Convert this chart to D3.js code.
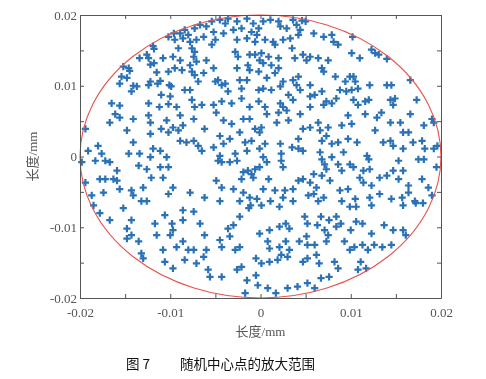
<!DOCTYPE html>
<html>
<head>
<meta charset="utf-8">
<script src="https://cdn.jsdelivr.net/npm/d3@7"></script>
<style>
  body { margin: 0; background: #fff; }
  svg { display: block; }
</style>
</head>
<body>
<div id="chart"></div>
<script>
// random centre points, in micrometres (1e-3 mm)
var ptsUm = [
  // upper left
  [-10.2,16.9],[-11.9,15.6],[-11.8,15.2],[-12.6,14.4],[-13.4,13.9],[-12.4,13.9],[-12.2,13.0],[-11.8,13.2],[-10.8,13.9],[-15.2,12.7],[-14.6,12.5],[-14.5,12.1],[-11.5,11.9],[-10.2,12.0],[-11.1,10.7],[-11.4,10.3],[-12.2,10.6],[-12.4,10.1],[-15.4,11.3],[-14.8,11.1],[-15.6,10.3],[-14.1,10.0],[-13.7,9.9],[-14.3,9.2],[-10.1,10.1],[-11.0,8.7],[-10.0,8.5],[-16.5,7.5],[-15.6,7.2],[-12.4,7.5],[-11.2,7.0],[-10.2,7.4],
  [-9.6,17.4],[-8.9,17.4],[-8.4,17.9],[-8.0,17.2],[-7.3,18.1],[-6.7,18.6],[-6.0,18.4],[-5.4,19.1],[-5.2,17.6],[-4.5,19.3],[-3.9,18.8],[-3.6,19.5],[-2.6,19.1],[-1.5,19.5],[-0.8,18.8],[-0.2,18.1],
  [-9.5,16.5],[-8.6,16.7],[-7.8,16.2],[-7.1,16.5],[-6.3,16.9],[-5.0,16.5],[-4.1,17.4],[-3.0,17.9],[-2.1,18.1],[-1.0,17.6],[-0.4,17.2],
  [-9.1,15.3],[-7.6,15.3],[-7.3,14.8],[-5.4,15.8],[-2.6,16.5],[-1.5,16.7],[-0.6,16.2],
  [-9.7,14.1],[-8.9,13.6],[-7.4,14.1],[-7.1,13.4],[-6.0,13.6],[-2.8,14.8],[-2.5,14.1],[-1.2,14.4],[-0.6,14.4],[-0.1,13.6],
  [-9.5,12.5],[-8.7,12.2],[-7.8,12.9],[-7.6,12.0],[-7.3,11.5],[-6.3,11.8],[-5.2,12.5],[-2.6,12.5],[-1.4,12.9],[-1.2,12.2],[-0.2,12.0],
  [-9.9,9.9],[-8.4,9.4],[-7.8,9.4],[-6.9,10.6],[-5.0,10.6],[-4.7,10.8],[-4.3,10.1],[-3.9,10.3],[-3.6,9.2],[-2.3,10.8],[-2.1,9.6],[-1.5,10.8],[-0.2,9.4],
  [-9.3,7.0],[-7.6,8.0],[-7.3,7.0],[-6.5,7.3],[-5.2,7.3],[-4.3,7.8],[-3.2,7.5],[-2.1,8.2],[-1.2,7.0],[-0.2,7.8],
  // upper right
  [0.3,19.1],[1.1,19.3],[2.0,19.1],[2.2,18.4],[2.9,18.1],[3.6,19.3],[4.0,18.6],[4.4,17.9],[4.6,19.2],[5.0,19.1],[4.2,17.2],
  [0.5,16.5],[1.4,16.2],[1.6,15.8],[2.5,16.5],[3.3,16.7],[3.5,15.3],[5.9,17.4],[7.0,16.9],[7.9,17.2],[8.1,16.2],[8.6,15.8],
  [0.1,14.6],[0.9,14.1],[2.0,13.9],[0.3,13.2],[1.2,12.9],[2.0,12.5],[3.8,13.9],[4.7,14.4],[5.1,13.6],[5.5,14.1],[6.4,13.9],[7.5,13.6],
  [0.7,11.1],[1.6,11.8],[2.5,10.6],[3.6,10.8],[4.2,11.3],[4.0,10.1],[4.4,9.4],[5.5,10.1],[6.8,12.5],[7.0,12.0],[8.3,11.3],[9.4,10.6],[9.9,11.3],
  [0.3,9.6],[1.2,9.4],[2.2,9.9],[3.1,8.7],[3.6,8.0],[5.5,8.5],[6.0,8.7],[6.8,9.2],[7.3,7.8],[8.4,8.2],[8.8,9.4],[9.5,9.2],
  [0.5,7.0],[2.2,7.5],[2.5,7.0],[5.5,7.0],[7.0,7.3],[7.9,7.5],
  [10.2,16.9],[10.1,14.6],[11.0,13.9],[12.3,15.1],[12.7,14.6],[13.1,14.4],[14.0,13.8],[16.6,10.8],[10.3,11.3],[10.5,10.6],[10.1,9.4],[10.8,9.6],[12.1,10.1],[14.0,10.1],[14.5,10.1],[10.3,8.0],[11.6,7.8],[12.0,8.0],[14.4,8.0],[14.9,8.2],[14.7,7.3],[17.3,8.0],[10.8,7.3],
  // middle band
  [-19.4,3.9],[-16.1,6.0],[-15.6,5.5],[-14.1,5.3],[-12.4,5.8],[-12.2,4.8],[-10.4,5.1],[-16.7,4.8],[-14.8,3.7],[-12.2,3.2],[-11.0,3.9],[-10.2,3.4],[-14.1,2.0],[-19.1,0.8],[-18.0,1.5],[-17.6,0.4],[-18.3,-0.6],[-17.2,-0.6],[-16.7,-0.8],[-14.6,0.4],[-13.4,0.4],[-11.9,1.1],[-11.1,0.8],[-12.2,-0.1],[-10.4,-0.1],[-19.8,-0.8],[-13.5,-1.3],[-12.6,-1.8],[-11.1,-1.5],[-10.2,-1.5],[-15.9,-2.0],[-17.8,-3.2],[-17.2,-3.2],[-16.3,-3.2],[-15.9,-3.4],[-12.1,-3.0],[-10.8,-3.0],[-19.4,-3.7],[-15.6,-4.6],[-14.3,-4.8],[-13.0,-4.4],[-17.4,-5.1],[-18.7,-5.5],[-12.6,-6.3],[-13.2,-6.3],[-14.1,-5.5],[-10.2,-5.3],
  [-8.9,5.8],[-7.4,5.3],[-9.7,4.1],[-9.1,3.7],[-8.6,4.4],[-6.2,3.9],[-4.9,6.2],[-4.1,5.1],[-3.2,4.6],[-2.3,3.4],[-1.9,5.3],[-1.2,5.3],[-0.6,3.9],[-0.1,3.4],
  [-8.9,2.2],[-8.2,2.0],[-7.4,2.2],[-6.9,1.5],[-6.5,0.8],[-5.2,1.3],[-4.5,2.9],[-4.1,1.8],[-3.4,2.5],[-1.7,2.0],[-1.0,2.2],[-0.1,1.1],
  [-4.5,0.1],[-4.7,-0.6],[-4.3,-0.8],[-3.4,-0.8],[-2.8,0.4],[-2.6,-0.6],[-1.5,0.8],[-1.9,-2.2],[-1.4,-2.0],[-1.0,-2.5],[-0.6,-1.8],[-0.1,-1.5],
  [-4.9,-3.4],[-4.3,-4.4],[-2.1,-3.2],[-0.8,-3.0],[-9.7,-4.4],[-7.8,-5.1],[-6.2,-5.8],[-3.0,-4.6],[-1.9,-5.1],[-1.2,-5.8],[-0.4,-6.0],[-4.5,-6.3],[-2.3,-6.3],
  [0.7,6.0],[2.0,6.2],[2.9,6.5],[4.4,6.0],[1.8,4.8],[3.1,5.1],[0.1,4.1],[4.7,3.9],[5.5,4.1],[6.4,4.8],[6.6,3.7],[7.5,4.1],[9.0,4.4],[9.7,5.8],
  [0.5,1.8],[2.2,1.8],[3.5,1.3],[4.2,2.5],[4.2,1.1],[4.7,0.8],[6.8,2.2],[7.3,2.9],[7.9,1.8],[8.6,2.0],[9.2,0.6],[9.7,2.5],
  [0.3,-0.1],[0.7,-0.8],[2.3,0.4],[2.3,-0.6],[2.5,-1.5],[6.6,0.6],[6.8,-0.4],[7.1,-1.1],[7.3,-1.8],[7.9,-0.1],[8.6,-1.1],[9.0,-2.0],[9.9,-1.1],[5.9,-2.5],
  [0.9,-3.2],[0.3,-4.6],[1.6,-4.8],[2.7,-4.8],[3.6,-4.6],[4.2,-3.4],[4.7,-3.2],[5.5,-3.7],[6.2,-4.4],[6.8,-2.7],[7.7,-3.4],[5.3,-5.5],[5.9,-5.3],[7.0,-5.8],[8.8,-4.8],[9.7,-4.6],
  [1.1,-6.3],[2.5,-5.8],[3.6,-6.3],[6.4,-6.3],[9.0,-6.3],
  [11.6,6.0],[12.9,5.5],[13.4,6.2],[14.4,4.8],[15.5,4.8],[16.6,6.0],[15.8,3.4],[16.4,3.4],[18.1,4.4],[19.0,5.3],[19.2,4.8],[10.1,4.6],[12.7,3.7],
  [10.7,2.0],[13.6,2.0],[14.4,2.2],[14.7,1.5],[15.8,1.1],[16.9,2.0],[17.9,2.2],[18.2,1.1],[19.2,1.1],[19.6,1.5],
  [11.8,0.1],[12.0,-0.4],[15.3,-0.6],[17.5,-0.4],[18.1,-0.4],[10.3,-1.5],[11.4,-2.0],[12.1,-1.8],[11.0,-3.0],[11.4,-3.7],[12.3,-4.1],[13.2,-3.0],[14.0,-2.7],[14.7,-2.0],[15.8,-2.0],[15.3,-3.2],[16.4,-4.1],[17.9,-3.2],[19.5,-1.5],
  [10.5,-6.0],[12.1,-5.8],[13.2,-5.3],[14.5,-6.0],[15.7,-5.8],[16.4,-5.1],[17.1,-6.3],[19.0,-5.5],[18.6,-4.4],
  // lower left
  [-18.5,-6.9],[-17.8,-8.0],[-16.7,-9.0],[-15.2,-7.3],[-14.3,-9.0],[-14.8,-10.2],[-14.3,-11.1],[-14.8,-11.6],[-13.5,-12.0],[-13.2,-13.7],[-13.0,-14.4],[-11.5,-11.1],[-11.7,-9.5],[-10.6,-8.3],[-9.8,-9.5],[-10.0,-11.1],[-9.7,-10.4],[-8.6,-9.0],[-8.6,-7.6],[-7.4,-7.8],[-6.7,-9.5],[-6.2,-11.1],[-9.3,-12.8],[-8.6,-12.0],[-8.0,-13.2],[-8.4,-14.6],[-7.4,-13.2],[-7.1,-15.1],[-6.3,-14.2],[-6.0,-13.2],[-5.8,-16.0],[-5.6,-17.0],[-4.3,-17.0],[-10.8,-13.2],[-10.6,-14.9],[-9.7,-15.8],[-3.4,-11.3],[-4.5,-11.8],[-4.3,-12.8],[-2.8,-13.2],[-2.3,-12.8],[-2.6,-16.0],[-2.1,-15.6],[-1.5,-17.5],[-1.7,-19.3],[-3.6,-10.2],[-3.0,-9.7],[-2.3,-8.5],[-1.3,-7.3],
  // lower right
  [-1.1,-6.9],[0.1,-6.9],[2.1,-7.1],[6.7,-8.5],[7.6,-9.0],[8.4,-8.5],[9.9,-7.1],[10.6,-7.1],[12.3,-6.9],[15.8,-6.9],[17.2,-6.6],[18.0,-6.6],
  [-0.1,-10.9],[1.0,-10.4],[2.1,-9.9],[2.8,-9.5],[3.2,-10.2],[4.9,-8.5],[5.2,-9.5],[6.3,-9.7],[7.1,-10.4],[7.5,-11.1],[8.4,-9.9],[8.9,-9.5],[10.0,-10.4],[10.6,-9.2],[11.3,-9.5],[12.3,-10.9],[13.7,-9.7],[14.7,-10.4],[15.8,-10.4],[16.1,-11.1],
  [0.8,-12.0],[1.0,-13.0],[2.1,-12.8],[2.8,-12.0],[3.2,-13.2],[2.3,-13.9],[4.3,-12.0],[5.1,-11.3],[5.2,-12.5],[6.0,-12.5],[7.3,-12.0],[9.3,-12.0],[9.9,-13.2],[10.4,-12.8],[11.3,-12.5],[11.9,-13.2],[12.6,-12.5],[13.5,-12.8],[14.5,-12.5],
  [-0.5,-14.4],[0.1,-15.1],[1.0,-14.9],[1.9,-14.6],[3.0,-14.2],[4.7,-14.9],[5.2,-14.4],[6.2,-13.9],[6.5,-15.1],[8.2,-14.9],[8.6,-15.8],[7.6,-17.0],[6.7,-17.2],[5.2,-17.9],[6.0,-18.6],[4.1,-18.4],[3.0,-18.6],[0.8,-18.6],[1.7,-19.3],[-0.5,-16.8],[-0.3,-18.2],[11.1,-14.9],[11.7,-15.8],[10.8,-16.0]
];

var tickVals = [-0.02, -0.015, -0.01, -0.005, 0, 0.005, 0.01, 0.015, 0.02];
var tickLabels = {"-0.02": "-0.02", "-0.01": "-0.01", "0": "0", "0.01": "0.01", "0.02": "0.02"};
var radius = 0.02; // range circle, mm
var axisTitle = "长度/mm";
var captionNo = "图 7";
var captionText = "随机中心点的放大范围";

var width = 486, height = 379;
var margin = {top: 15, right: 45, bottom: 81, left: 80};

var svg = d3.select("#chart").append("svg")
    .attr("width", width).attr("height", height);

svg.append("rect").attr("width", width).attr("height", height).attr("fill", "#fff");

var x = d3.scaleLinear().domain([-0.02, 0.02]).range([margin.left, width - margin.right]);
var y = d3.scaleLinear().domain([-0.02, 0.02]).range([height - margin.bottom, margin.top]);

var defs = svg.append("defs");
defs.append("filter").attr("id", "soft")
    .append("feGaussianBlur").attr("stdDeviation", 0.5);

var fmt = function(d) {
    var k = String(Math.round(d * 1000) / 1000);
    return tickLabels[k] || "";
};

// points
var pts = ptsUm.map(function(p) { return [p[0] / 1000, p[1] / 1000]; });
svg.append("g").attr("filter", "url(#soft)")
    .selectAll("path").data(pts).enter().append("path")
    .attr("transform", function(d) { return "translate(" + x(d[0]) + "," + y(d[1]) + ")"; })
    .attr("d", "M-3.6,0H3.6M0,-3.6V3.6")
    .attr("stroke", "#2a72b5")
    .attr("stroke-width", 2.2)
    .attr("fill", "none");

// red range circle
svg.append("ellipse")
    .attr("cx", x(0)).attr("cy", y(0))
    .attr("rx", x(radius) - x(0)).attr("ry", y(0) - y(radius))
    .attr("fill", "none")
    .attr("stroke", "#e8534c")
    .attr("stroke-width", 1.1);

function styleAxis(g) {
    g.selectAll(".domain").attr("stroke", "#555");
    g.selectAll(".tick line").attr("stroke", "#555");
    g.selectAll("text")
        .attr("fill", "#555")
        .style("font-family", "'Liberation Serif', 'DejaVu Serif', serif")
        .style("font-size", "13px");
}

svg.append("g").attr("transform", "translate(0," + y(-0.02) + ")")
    .call(d3.axisBottom(x).tickValues(tickVals).tickFormat(fmt).tickSizeInner(-4).tickSizeOuter(0).tickPadding(10))
    .call(styleAxis);
svg.append("g").attr("transform", "translate(" + x(-0.02) + ",0)")
    .call(d3.axisLeft(y).tickValues(tickVals).tickFormat(fmt).tickSizeInner(-4).tickSizeOuter(0).tickPadding(3))
    .call(styleAxis);
svg.append("g").attr("transform", "translate(0," + y(0.02) + ")")
    .call(d3.axisTop(x).tickValues(tickVals).tickFormat("").tickSizeInner(-4).tickSizeOuter(0))
    .call(styleAxis);
svg.append("g").attr("transform", "translate(" + x(0.02) + ",0)")
    .call(d3.axisRight(y).tickValues(tickVals).tickFormat("").tickSizeInner(-4).tickSizeOuter(0))
    .call(styleAxis);

// axis titles
svg.append("text")
    .attr("x", x(0)).attr("y", 336)
    .attr("text-anchor", "middle")
    .attr("fill", "#555")
    .style("font-family", "'Liberation Serif', 'Noto Sans CJK SC', serif")
    .style("font-size", "13px")
    .text(axisTitle);
svg.append("text")
    .attr("transform", "translate(37," + y(0) + ") rotate(-90)")
    .attr("text-anchor", "middle")
    .attr("fill", "#555")
    .style("font-family", "'Liberation Serif', 'Noto Sans CJK SC', serif")
    .style("font-size", "13px")
    .text(axisTitle);

// caption
svg.append("text")
    .attr("x", 126).attr("y", 369)
    .attr("fill", "#111")
    .style("font-family", "'Noto Sans CJK SC', sans-serif")
    .style("font-size", "13.5px")
    .text(captionNo);
svg.append("text")
    .attr("x", 180).attr("y", 369)
    .attr("fill", "#111")
    .style("font-family", "'Noto Sans CJK SC', sans-serif")
    .style("font-size", "13.5px")
    .text(captionText);
</script>
</body>
</html>
